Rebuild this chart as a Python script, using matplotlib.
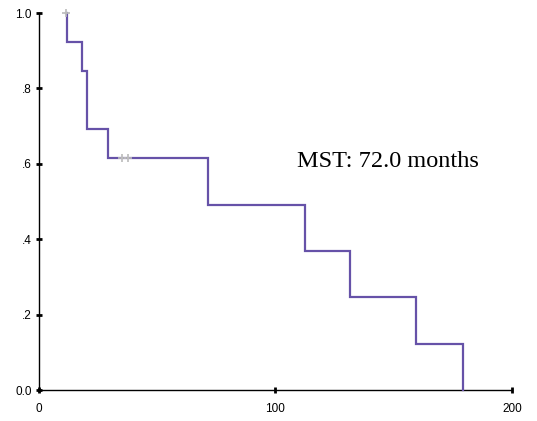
import matplotlib
matplotlib.use("Agg")
import matplotlib.pyplot as plt

# Kaplan-Meier step data (time in months, survival)
times = [11.8, 18.2, 20.3, 29.2, 71.5, 112.5, 131.5, 159.4, 179.3]
surv_before = [1.0, 0.923, 0.846, 0.692, 0.615, 0.492, 0.369, 0.246, 0.123]
surv_after = [0.923, 0.846, 0.692, 0.615, 0.492, 0.369, 0.246, 0.123, 0.0]
censor_times = [11.4, 35.1, 37.6]
censor_surv = [1.0, 0.615, 0.615]
start_time = 11.4

xticks = [0, 100, 200]
yticks = [0.0, 0.2, 0.4, 0.6, 0.8, 1.0]
ylabels = ["0.0", ".2", ".4", ".6", ".8", "1.0"]

fig = plt.figure(figsize=(5.37, 4.21), dpi=100)
ax = fig.add_axes([0.0726, 0.0736, 0.8808, 0.8954])

xs = [start_time]
ys = [surv_before[0]]
for t, b, a in zip(times, surv_before, surv_after):
    xs += [t, t]
    ys += [b, a]
ax.plot(xs, ys, color="#6652a8", lw=1.6, solid_joinstyle="miter", zorder=3,
        clip_on=False)
ax.plot(censor_times, censor_surv, ls="none", marker="+", color="#bbbbbb",
        ms=6, mew=1.2, zorder=4, clip_on=False)

ax.set_xlim(0, 200)
ax.set_ylim(0, 1.0)
ax.set_xticks(xticks)
ax.set_xticklabels([str(v) for v in xticks])
ax.set_yticks(yticks)
ax.set_yticklabels(ylabels)
for s in ["top", "right"]:
    ax.spines[s].set_visible(False)
for s in ["left", "bottom"]:
    ax.spines[s].set_linewidth(1.0)
ax.tick_params(axis="both", direction="inout", length=4, width=2,
               labelsize=8.5, colors="black")
ax.tick_params(axis="y", pad=3)
ax.tick_params(axis="x", pad=7)
for lab in ax.get_xticklabels() + ax.get_yticklabels():
    lab.set_fontfamily("Liberation Sans")

ax.text(0.545, 0.607, "MST: 72.0 months", transform=ax.transAxes,
        fontsize=17.5, family="Liberation Serif", ha="left", va="center")

fig.savefig("out.png", dpi=100)
